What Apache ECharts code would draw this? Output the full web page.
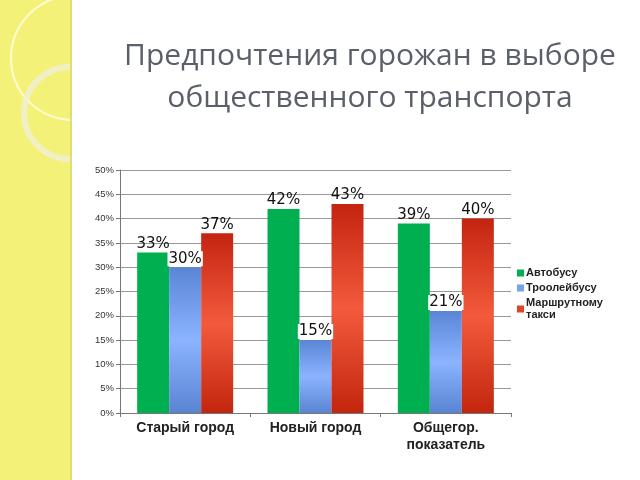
<!DOCTYPE html>
<html><head><meta charset="utf-8">
<script src="https://cdn.jsdelivr.net/npm/echarts@6/dist/echarts.min.js"></script>
<style>html,body{margin:0;padding:0;background:#fff}#c{width:640px;height:480px}</style>
</head><body><div id="c"></div>
<script>
var categories = ['Старый город', 'Новый город', 'Общегор.\nпоказатель'];
var seriesNames = ['Автобусу', 'Троолейбусу', 'Маршрутному\nтакси'];
var bus = [33, 42, 39];
var trolley = [30, 15, 21];
var taxi = [37, 43, 40];
var yTicks = [0, 5, 10, 15, 20, 25, 30, 35, 40, 45, 50];

var chart = echarts.init(document.getElementById('c'));
function grad(a, b, c) {
  return new echarts.graphic.LinearGradient(0, 0, 0, 1, [
    {offset: 0, color: a}, {offset: 0.5, color: b}, {offset: 1, color: c}]);
}
var a1 = Math.acos(-3 / 62);
var labelCfg = {show: true, position: 'top', distance: 1, formatter: '{c}%', color: '#111', fontSize: 15, fontFamily: 'DejaVu Sans'};
chart.setOption({
  animation: false,
  backgroundColor: '#fff',
  graphic: [
    {type: 'rect', shape: {x: 0, y: 0, width: 71, height: 480}, style: {fill: '#f4f178'}},
    {type: 'arc', shape: {cx: 73, cy: 58, r: 62, startAngle: a1, endAngle: 2 * Math.PI - a1, clockwise: true}, style: {fill: 'none', stroke: 'rgba(255,255,235,0.8)', lineWidth: 2}},
    {type: 'arc', shape: {cx: 70, cy: 113, r: 46, startAngle: Math.PI / 2, endAngle: 3 * Math.PI / 2, clockwise: true}, style: {fill: 'none', stroke: 'rgba(240,240,215,0.8)', lineWidth: 6}},
    {type: 'rect', shape: {x: 70, y: 0, width: 2, height: 480}, style: {fill: '#e0dc7a'}}
  ],
  title: {
    text: 'Предпочтения горожан в выборе\nобщественного транспорта',
    left: 365, textAlign: 'center', top: 30,
    textStyle: {fontFamily: 'Open Sans', fontWeight: 'normal', fontSize: 30, color: '#5a5f6a', lineHeight: 42}
  },
  legend: {
    orient: 'vertical', left: 512, top: 262, itemWidth: 7, itemHeight: 7, itemGap: 3,
    icon: 'rect',
    textStyle: {fontFamily: 'Liberation Sans', fontWeight: 'bold', fontSize: 11, color: '#222', padding: [0, 0, 0, -3], lineHeight: 12},
    data: seriesNames.map(function (n, i) { return {name: n, itemStyle: {color: ['#00b050', '#7aa0e8', '#e0452a'][i]}}; })
  },
  grid: {left: 120, right: 129, top: 170, bottom: 67, containLabel: false},
  xAxis: {
    type: 'category', data: categories,
    axisLine: {lineStyle: {color: '#777'}},
    axisTick: {show: true, length: 4, lineStyle: {color: '#777'}},
    axisLabel: {fontFamily: 'Liberation Sans', fontWeight: 'bold', fontSize: 14, color: '#222', margin: 7, lineHeight: 17}
  },
  yAxis: {
    type: 'value', min: 0, max: 50, interval: 5,
    axisLine: {show: true, lineStyle: {color: '#777'}},
    axisTick: {show: true, length: 4, lineStyle: {color: '#777'}},
    splitLine: {lineStyle: {color: '#999'}},
    axisLabel: {formatter: function (v) { return yTicks.indexOf(v) >= 0 ? v + '%' : ''; }, fontFamily: 'Liberation Sans', fontSize: 9.5, color: '#333', margin: 6}
  },
  series: [
    {name: seriesNames[0], type: 'bar', data: bus, barWidth: 32, barGap: '0%',
      itemStyle: {color: '#00b050'}, label: labelCfg},
    {name: seriesNames[1], type: 'bar', data: trolley, barWidth: 32,
      itemStyle: {color: grad('#5a86d6', '#8bb3ff', '#5a84d2')}, label: Object.assign({}, labelCfg, {backgroundColor: '#fff', padding: [0, 1]})},
    {name: seriesNames[2], type: 'bar', data: taxi, barWidth: 32,
      itemStyle: {color: grad('#c42410', '#f35a3c', '#c2260e')}, label: labelCfg}
  ]
});
</script></body></html>
